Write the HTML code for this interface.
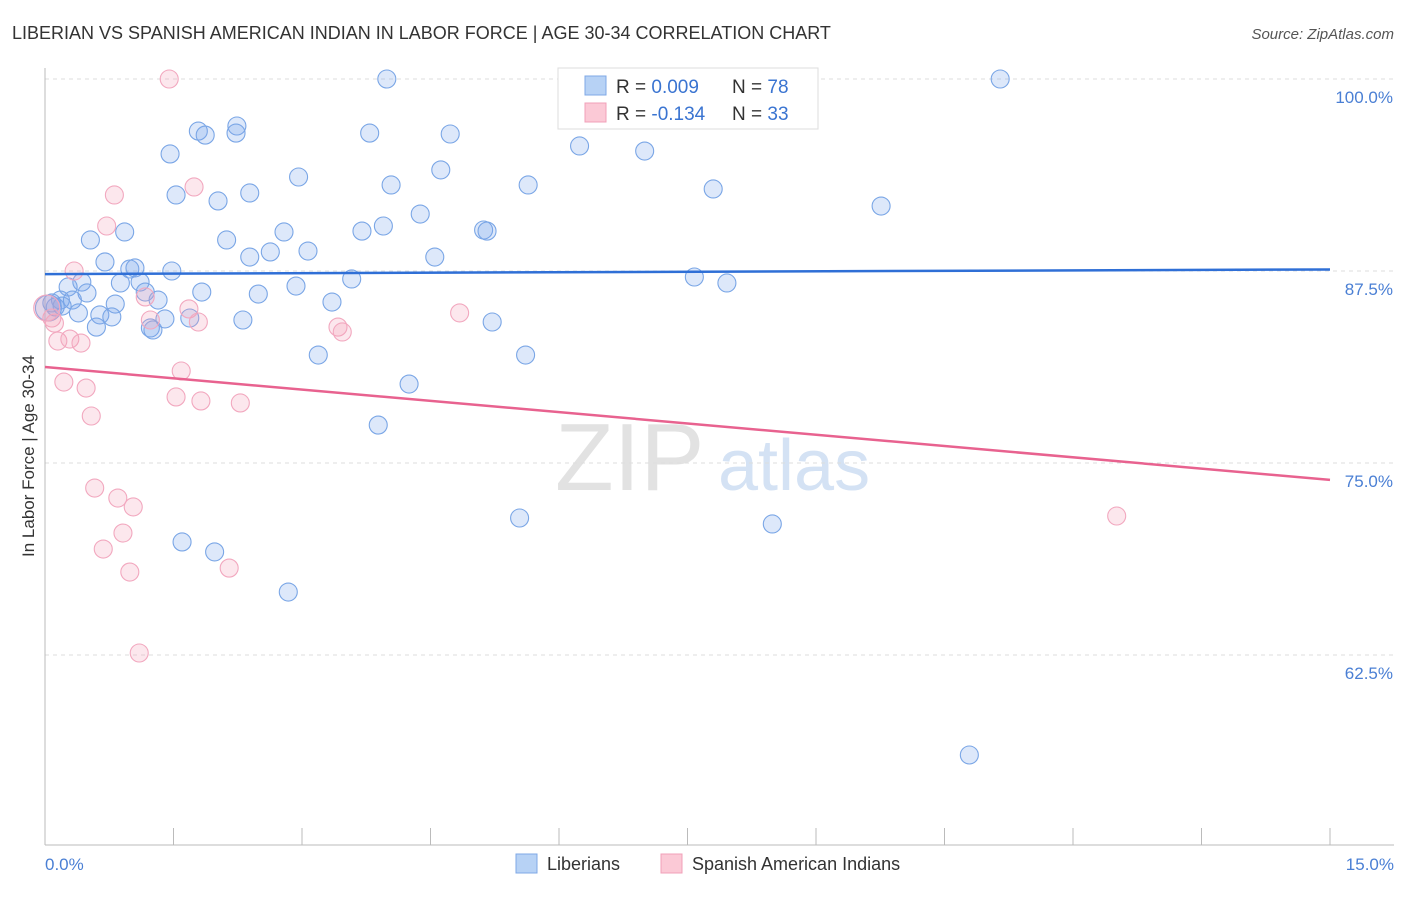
<!DOCTYPE html>
<html><head><meta charset="utf-8"><style>
body{margin:0;background:#fff;font-family:"Liberation Sans",sans-serif}
svg text{font-family:"Liberation Sans",sans-serif}
</style></head><body>
<svg id="chart" width="1406" height="892" xmlns="http://www.w3.org/2000/svg">
<text x="12" y="39" font-size="18" fill="#333">LIBERIAN VS SPANISH AMERICAN INDIAN IN LABOR FORCE | AGE 30-34 CORRELATION CHART</text>
<text x="1394" y="39" font-size="15" fill="#555" font-style="italic" text-anchor="end">Source: ZipAtlas.com</text>
<text x="555" y="490" font-size="96" fill="#e2e2e2" font-family="Liberation Serif">ZIP</text>
<text x="718" y="490" font-size="72" fill="#d4e2f4">atlas</text>
<g id="grid"></g><g id="axes"></g><g id="pts"></g><g id="lines"></g>
<text transform="translate(34,456) rotate(-90)" font-size="17" fill="#333" text-anchor="middle">In Labor Force | Age 30-34</text>
<text x="45" y="870" font-size="17" fill="#4a7fd4">0.0%</text>
<text x="1394" y="870" font-size="17" fill="#4a7fd4" text-anchor="end">15.0%</text>
<g>
<rect x="558" y="68" width="260" height="61" fill="#fff" stroke="#ddd"/>
<rect x="585" y="76" width="21" height="19" fill="#b7d2f5" stroke="#7fa8e6"/>
<rect x="585" y="103" width="21" height="19" fill="#fbc9d6" stroke="#f0a0b8"/>
<text x="616" y="93" font-size="19" fill="#333">R = <tspan fill="#3a74d1">0.009</tspan></text>
<text x="732" y="93" font-size="19" fill="#333">N = <tspan fill="#3a74d1">78</tspan></text>
<text x="616" y="120" font-size="19" fill="#333">R = <tspan fill="#3a74d1">-0.134</tspan></text>
<text x="732" y="120" font-size="19" fill="#333">N = <tspan fill="#3a74d1">33</tspan></text>
</g>
<g>
<rect x="516" y="854" width="21" height="19" fill="#b7d2f5" stroke="#7fa8e6"/>
<text x="547" y="870" font-size="18" fill="#333">Liberians</text>
<rect x="661" y="854" width="21" height="19" fill="#fbc9d6" stroke="#f0a0b8"/>
<text x="692" y="870" font-size="18" fill="#333">Spanish American Indians</text>
</g>
</svg>
<script>
const yTicks=[100,87.5,75,62.5];
const yTickLabels=["100.0%","87.5%","75.0%","62.5%"];
const blueX=[3.99,11.15,2.24,1.79,1.87,2.23,3.79,4.73,1.46,6.24,7.00,4.62,2.96,4.04,5.64,1.53,2.39,7.80,2.02,9.76,4.38,3.95,3.70,5.12,5.16,0.93,0.53,2.79,2.12,3.07,2.63,2.39,4.55,0.70,0.99,1.05,1.48,3.58,7.58,7.96,0.43,0.88,1.11,0.27,2.93,0.49,1.17,1.83,2.49,0.18,0.32,1.32,3.35,0.82,0.12,0.04,0.39,0.64,0.78,1.69,2.31,5.22,0.60,1.23,1.26,3.19,5.61,4.25,3.89,5.54,8.49,1.60,1.98,2.84,10.79,0.08,0.20,1.40];
const blueY=[100,100,96.94,96.61,96.35,96.48,96.48,96.42,95.12,95.64,95.31,94.08,93.62,93.10,93.10,92.45,92.58,92.84,92.06,91.73,91.21,90.43,90.10,90.17,90.10,90.04,89.52,90.04,89.52,88.80,88.74,88.41,88.41,88.09,87.63,87.70,87.50,86.98,87.11,86.72,86.78,86.72,86.78,86.46,86.52,86.07,86.13,86.13,86.00,85.61,85.61,85.61,85.48,85.35,85.16,85.09,84.77,84.64,84.51,84.44,84.31,84.18,83.85,83.79,83.66,82.03,82.03,80.14,77.47,71.42,71.03,69.86,69.21,66.60,55.99,85.42,85.22,84.38];
const pinkX=[1.45,0.81,1.74,0.72,0.34,1.17,1.68,1.23,1.79,0.08,0.11,0.15,0.29,0.42,4.84,3.42,3.47,0.22,0.48,1.59,1.53,1.82,2.28,0.54,0.58,0.85,1.03,0.91,0.68,0.99,2.15,1.10,12.51,0.02];
const pinkY=[100,92.45,92.97,90.43,87.50,85.81,85.03,84.31,84.18,84.44,84.11,82.94,83.07,82.81,84.77,83.85,83.53,80.27,79.88,80.99,79.30,79.04,78.91,78.06,73.37,72.72,72.14,70.44,69.40,67.90,68.16,62.63,71.55,85.09];
const blueTrend=[87.3,87.6];
const pinkTrend=[81.25,73.9];
const NS="http://www.w3.org/2000/svg";
const X0=45,X1=1330,XMAX=15;
function sx(v){return X0+(v/XMAX)*(X1-X0);}
function sy(v){return 79+(100-v)*15.36;}
function mk(t,a,p){const e=document.createElementNS(NS,t);for(const k in a)e.setAttribute(k,a[k]);p.appendChild(e);return e;}
const grid=document.getElementById('grid'),axes=document.getElementById('axes'),pts=document.getElementById('pts'),lines=document.getElementById('lines');
yTicks.forEach((t,i)=>{
 const l=mk('line',{x1:45,x2:1394,y1:sy(t),y2:sy(t),stroke:'#ddd','stroke-dasharray':'4,4'},grid);
 
 
 const tx=mk('text',{x:1393,y:sy(t)+24,'font-size':17,fill:'#4a7fd4','text-anchor':'end'},grid);
 tx.textContent=yTickLabels[i];
 
 
});
const ya=mk('line',{x1:45,x2:45,y1:68,y2:845,stroke:'#bbb'},axes);


const xa=mk('line',{x1:45,x2:1394,y1:845,y2:845,stroke:'#bbb'},axes);


for(let i=0;i<=10;i++){
 const v=i*1.5;
 const tk=mk('line',{x1:sx(v),x2:sx(v),y1:828,y2:845,stroke:'#bbb'},axes);
 
 
}
function dots(xs,ys,fill,stroke,name){
 xs.forEach((x,i)=>{
  const big=(x<0.06&&ys[i]>84.5&&ys[i]<85.6);
  const c=mk('circle',{cx:sx(x),cy:sy(ys[i]),r:big?13:9,fill:fill,stroke:stroke,'stroke-width':1.1},pts);
  
  
 });
}
dots(blueX,blueY,'rgba(120,165,235,0.25)','#7aa6e6','liberian-point');
dots(pinkX,pinkY,'rgba(245,160,185,0.25)','#f2a8bf','spanish-american-indian-point');
const bl=mk('line',{x1:sx(0),x2:sx(15),y1:sy(blueTrend[0]),y2:sy(blueTrend[1]),stroke:'#2f6fd6','stroke-width':2.5},lines);


const pl=mk('line',{x1:sx(0),x2:sx(15),y1:sy(pinkTrend[0]),y2:sy(pinkTrend[1]),stroke:'#e8628f','stroke-width':2.5},lines);


</script>
</body></html>
